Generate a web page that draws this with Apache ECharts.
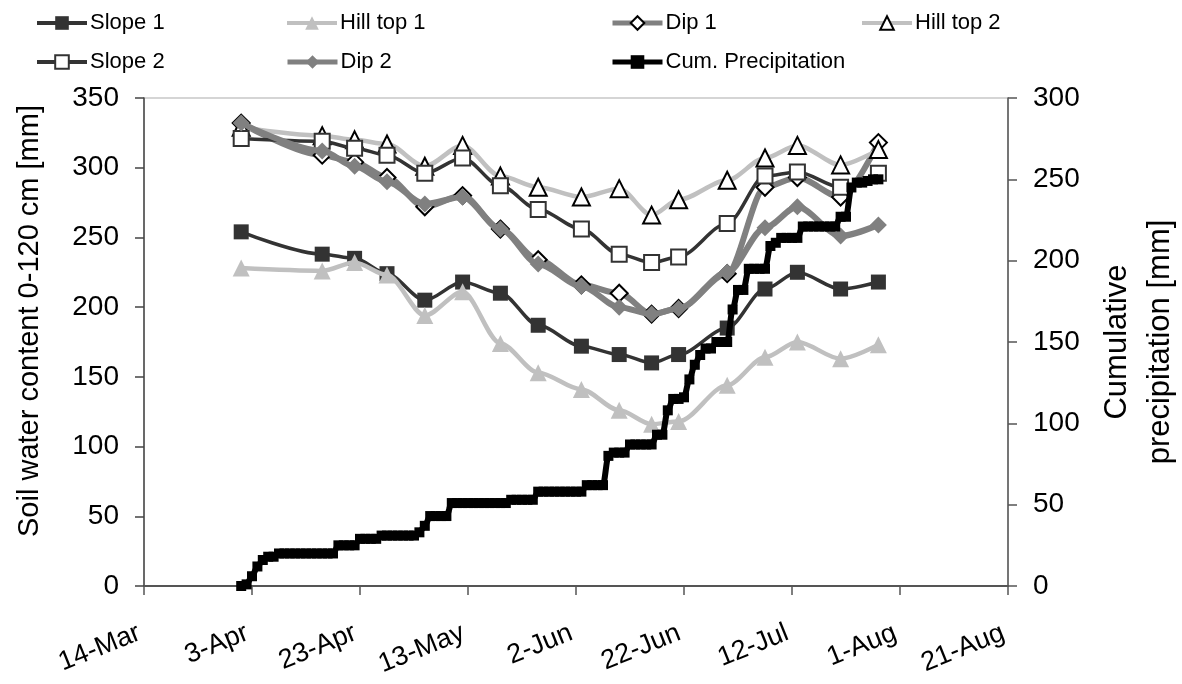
<!DOCTYPE html>
<html>
<head>
<meta charset="utf-8">
<script src="https://cdn.jsdelivr.net/npm/echarts@6/dist/echarts.min.js"></script>
<style>
html,body{margin:0;padding:0;background:#fff;}
#chart{width:1182px;height:684px;}
</style>
</head>
<body>
<div id="chart"></div>
<script>
// ---- data ----
const originDate = '2005-03-14';           // x-axis origin (14-Mar)
const xTickStepDays = 20;
const xMaxDays = 160;                        // 21-Aug

const soilDates = ['2005-04-01','2005-04-16','2005-04-22','2005-04-28','2005-05-05','2005-05-12','2005-05-19','2005-05-26','2005-06-03','2005-06-10','2005-06-16','2005-06-21','2005-06-30','2005-07-07','2005-07-13','2005-07-21','2005-07-28'];

const slope1   = [254, 238, 235, 224, 205, 218, 210, 187, 172, 166, 160, 166, 185, 213, 225, 213, 218];
const hillTop1 = [228, 226, 232, 223, 194, 211, 174, 153, 141, 126, 116, 118, 144, 164, 175, 163, 173];
const dip1     = [332, 309, 304, 293, 272, 280, 256, 234, 216, 210, 195, 199, 224, 286, 293, 279, 318];
const hillTop2 = [329, 323, 320, 317, 301, 316, 294, 286, 279, 285, 266, 277, 291, 307, 316, 302, 313];
const slope2   = [321, 319, 314, 309, 296, 307, 287, 270, 256, 238, 232, 236, 260, 294, 297, 286, 296];
const dip2     = [332, 312, 301, 290, 274, 279, 256, 231, 215, 200, 195, 199, 225, 257, 272, 251, 259];

// daily cumulative precipitation, starting 1-Apr
const precipStart = '2005-04-01';
const precipDaily = [
  0, 1, 6, 12, 16, 18, 18,
  20, 20, 20, 20, 20, 20, 20, 20, 20, 20, 20,
  25, 25, 25, 25,
  29, 29, 29, 29,
  31, 31, 31, 31, 31, 31, 31,
  33, 37,
  43, 43, 43, 43,
  51, 51, 51, 51, 51, 51, 51, 51, 51, 51, 51,
  53, 53, 53, 53, 53,
  58, 58, 58, 58, 58, 58, 58, 58, 58,
  62, 62, 62, 62,
  80,
  82, 82, 82,
  87, 87, 87, 87, 87,
  93, 93,
  108,
  115, 115, 116,
  127, 136, 142,
  146, 146,
  150, 150, 150,
  170, 182, 182,
  195, 195, 195, 195,
  209, 211,
  214, 214, 214, 214,
  221, 221, 221, 221, 221, 221, 221,
  227, 227,
  245,
  248, 248, 249, 250, 250
];

const leftTicks = {min: 0, max: 350, step: 50};
const rightTicks = {min: 0, max: 300, step: 50};

// ---- helpers ----
const DAY = 86400000;
function toMs(s){ const p = s.split('-').map(Number); return Date.UTC(p[0], p[1]-1, p[2]); }
const originMs = toMs(originDate);
function dayOf(s){ return Math.round((toMs(s) - originMs) / DAY); }
const MON = ['Jan','Feb','Mar','Apr','May','Jun','Jul','Aug','Sep','Oct','Nov','Dec'];
function dayLabel(d){ const dt = new Date(originMs + d*DAY); return dt.getUTCDate() + '-' + MON[dt.getUTCMonth()]; }

function pairs(vals){ return vals.map((v,i)=>[dayOf(soilDates[i]), v]); }
const precipStartDay = dayOf(precipStart);
const precipData = precipDaily.map((v,i)=>[precipStartDay + i, v]);

const FONT = '"Liberation Sans", Arial, sans-serif';

function soilSeries(name, vals, o){
  return {
    name, type: 'line', data: pairs(vals), yAxisIndex: 0,
    smooth: 0.3, smoothMonotone: 'x',
    symbol: o.symbol, symbolSize: o.size, showSymbol: true,
    lineStyle: {color: o.line, width: o.lw},
    itemStyle: {color: o.fill, borderColor: o.border, borderWidth: o.bw, opacity: 1},
    emphasis: {disabled: true},
    z: o.z
  };
}

const series = [
  soilSeries('Slope 1', slope1, {symbol:'rect', size:15, line:'#333333', lw:3.5, fill:'#333333', border:'#333333', bw:0, z:2}),
  soilSeries('Hill top 1', hillTop1, {symbol:'triangle', size:17, line:'#c0c0c0', lw:4.5, fill:'#c0c0c0', border:'#c0c0c0', bw:0, z:3}),
  soilSeries('Dip 1', dip1, {symbol:'diamond', size:17, line:'#808080', lw:6, fill:'#ffffff', border:'#000000', bw:2, z:4}),
  soilSeries('Hill top 2', hillTop2, {symbol:'triangle', size:17, line:'#c0c0c0', lw:4.5, fill:'#ffffff', border:'#000000', bw:2, z:5}),
  soilSeries('Slope 2', slope2, {symbol:'rect', size:15, line:'#333333', lw:3.5, fill:'#ffffff', border:'#333333', bw:2, z:6}),
  soilSeries('Dip 2', dip2, {symbol:'diamond', size:17, line:'#808080', lw:6, fill:'#808080', border:'#808080', bw:0, z:7}),
  {
    name: 'Cum. Precipitation', type: 'line', data: precipData, yAxisIndex: 1,
    smooth: 0.3, smoothMonotone: 'x',
    symbol: 'rect', symbolSize: 10, showSymbol: true,
    lineStyle: {color: '#000000', width: 6},
    itemStyle: {color: '#000000'},
    emphasis: {disabled: true},
    z: 8
  }
];

const legendLineW = {'Slope 1':4,'Hill top 1':4,'Dip 1':5,'Hill top 2':4,'Slope 2':4,'Dip 2':5,'Cum. Precipitation':5};
function legendAt(name, left, top){
  return {
    data: [{name: name, lineStyle: {width: legendLineW[name]}}], left: left, top: top, padding: 0,
    itemWidth: 50, itemHeight: 17, itemGap: 0,
    textStyle: {fontFamily: FONT, fontSize: 22, color: '#000', padding: [0,0,0,-2]},
    selectedMode: false
  };
}

const option = {
  animation: false,
  backgroundColor: '#ffffff',
  legend: [
    legendAt('Slope 1', 35, 12),
    legendAt('Hill top 1', 285, 12),
    legendAt('Dip 1', 610, 12),
    legendAt('Hill top 2', 860, 12),
    legendAt('Slope 2', 35, 51),
    legendAt('Dip 2', 285, 51),
    legendAt('Cum. Precipitation', 610, 51)
  ],
  grid: {left: 144, right: 174, top: 98, bottom: 98, show: true, borderColor: '#c8c8c8', borderWidth: 1.5, containLabel: false, outerBoundsMode: 'none'},
  xAxis: {
    type: 'value', min: 0, max: xMaxDays, interval: xTickStepDays,
    axisLine: {onZero: false, lineStyle: {color: '#555', width: 2}},
    axisTick: {show: true, length: 9, lineStyle: {color: '#555', width: 1.5}},
    splitLine: {show: false},
    axisLabel: {
      rotate: 22, margin: 44, fontFamily: FONT, fontSize: 27, color: '#000',
      padding: [0, 5, 0, 0],
      formatter: dayLabel
    }
  },
  yAxis: [
    {
      type: 'value', min: leftTicks.min, max: leftTicks.max, interval: leftTicks.step, position: 'left',
      name: 'Soil water content 0-120 cm [mm]', nameLocation: 'middle', nameRotate: 90, nameGap: 100,
      nameTextStyle: {fontFamily: FONT, fontSize: 29, color: '#000', padding: [0, 0, 0, 42]},
      axisLine: {show: true, lineStyle: {color: '#444', width: 1.5}},
      axisTick: {show: true, length: 9, lineStyle: {color: '#444', width: 1.5}},
      splitLine: {show: false},
      axisLabel: {fontFamily: FONT, fontSize: 28, color: '#000', margin: 25}
    },
    {
      type: 'value', min: rightTicks.min, max: rightTicks.max, interval: rightTicks.step, position: 'right',
      name: 'Cumulative\nprecipitation [mm]', nameLocation: 'middle', nameRotate: 90, nameGap: 88,
      nameTextStyle: {fontFamily: FONT, fontSize: 31, color: '#000', lineHeight: 43},
      axisLine: {show: true, lineStyle: {color: '#555', width: 1.5}},
      axisTick: {show: true, length: 9, lineStyle: {color: '#555', width: 1.5}},
      splitLine: {show: false},
      axisLabel: {fontFamily: FONT, fontSize: 28, color: '#000', margin: 25}
    }
  ],
  series: series
};

const chart = echarts.init(document.getElementById('chart'), null, {renderer: 'canvas'});
chart.setOption(option);
</script>
</body>
</html>
